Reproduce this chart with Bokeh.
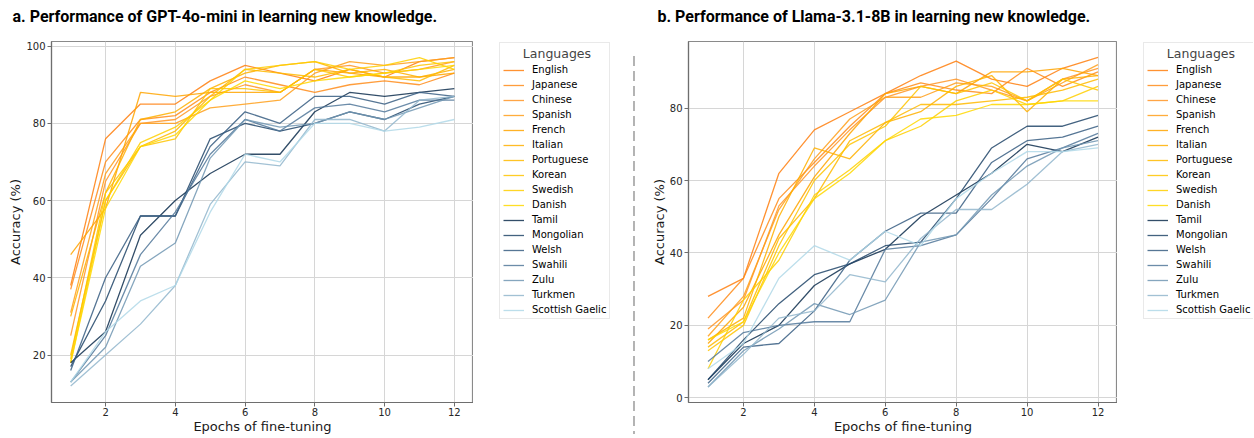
from bokeh.plotting import figure
from bokeh.models import Range1d, Legend, LegendItem, FixedTicker, Div, Title
from bokeh.layouts import row
from bokeh.embed import file_html
from bokeh.resources import INLINE

# ---------------- data ----------------
EPOCHS = [1, 2, 3, 4, 5, 6, 7, 8, 9, 10, 11, 12]
HIGH_LANGS = ["English", "Japanese", "Chinese", "Spanish", "French", "Italian",
              "Portuguese", "Korean", "Swedish", "Danish"]
LOW_LANGS = ["Tamil", "Mongolian", "Welsh", "Swahili", "Zulu", "Turkmen", "Scottish Gaelic"]
X_TICKS = [2, 4, 6, 8, 10, 12]
Y_TICKS_A = [20, 40, 60, 80, 100]
Y_TICKS_B = [0, 20, 40, 60, 80]

# a. GPT-4o-mini
GPT_ENGLISH = [38, 76, 85, 85, 91, 95, 93, 91, 94, 92, 96, 97]
GPT_JAPANESE = [37, 70, 81, 82, 88, 92, 90, 88, 90, 91, 90, 93]
GPT_CHINESE = [25, 65, 80, 81, 87, 90, 88, 94, 95, 93, 94, 96]
GPT_SPANISH = [31, 67, 80, 80, 84, 85, 86, 93, 96, 95, 96, 97]
GPT_FRENCH = [46, 58, 88, 87, 88, 88, 88, 94, 93, 92, 92, 93]
GPT_ITALIAN = [30, 62, 81, 83, 89, 93, 95, 96, 93, 94, 92, 94]
GPT_PORTUGUESE = [20, 60, 74, 78, 87, 94, 93, 92, 94, 92, 91, 95]
GPT_KOREAN = [19, 62, 74, 76, 89, 89, 88, 94, 92, 93, 95, 96]
GPT_SWEDISH = [18, 60, 75, 79, 86, 94, 95, 96, 94, 95, 97, 94]
GPT_DANISH = [18, 58, 74, 77, 86, 91, 89, 91, 92, 93, 94, 95]
GPT_TAMIL = [18, 26, 51, 60, 67, 72, 72, 83, 88, 87, 88, 89]
GPT_MONGOLIAN = [17, 34, 56, 56, 76, 80, 78, 80, 83, 81, 85, 87]
GPT_WELSH = [16, 40, 56, 56, 74, 83, 80, 87, 87, 85, 88, 87]
GPT_SWAHILI = [13, 25, 46, 57, 72, 81, 78, 84, 85, 83, 86, 86]
GPT_ZULU = [13, 22, 43, 49, 71, 81, 79, 80, 83, 81, 84, 87]
GPT_TURKMEN = [12, 20, 28, 38, 59, 70, 69, 81, 81, 78, 86, 87]
GPT_GAELIC = [13, 26, 34, 38, 57, 72, 70, 80, 80, 78, 79, 81]

# b. Llama-3.1-8B
LLAMA_ENGLISH = [28, 33, 62, 74, 79, 84, 89, 93, 88, 86, 91, 94]
LLAMA_JAPANESE = [22, 33, 55, 65, 75, 84, 87, 85, 84, 91, 86, 90]
LLAMA_CHINESE = [19, 27, 53, 64, 74, 83, 86, 88, 85, 82, 88, 91]
LLAMA_SPANISH = [17, 28, 52, 66, 77, 83, 83, 87, 86, 82, 87, 92]
LLAMA_FRENCH = [15, 25, 45, 61, 73, 84, 86, 84, 90, 90, 91, 89]
LLAMA_ITALIAN = [16, 22, 50, 69, 66, 76, 79, 86, 89, 79, 88, 89]
LLAMA_PORTUGUESE = [14, 21, 44, 55, 71, 76, 81, 81, 82, 83, 85, 88]
LLAMA_KOREAN = [13, 20, 42, 60, 70, 75, 86, 84, 87, 82, 88, 85]
LLAMA_SWEDISH = [8, 27, 38, 56, 63, 71, 75, 82, 85, 81, 82, 86]
LLAMA_DANISH = [16, 21, 40, 55, 62, 71, 77, 78, 81, 81, 82, 82]
LLAMA_TAMIL = [5, 15, 20, 31, 37, 41, 50, 56, 62, 70, 68, 72]
LLAMA_MONGOLIAN = [5, 16, 26, 34, 37, 42, 43, 55, 69, 75, 75, 78]
LLAMA_WELSH = [4, 14, 15, 24, 38, 46, 51, 51, 65, 71, 72, 75]
LLAMA_SWAHILI = [10, 18, 20, 21, 21, 41, 42, 45, 55, 66, 69, 73]
LLAMA_ZULU = [3, 13, 19, 26, 23, 27, 43, 45, 56, 64, 69, 71]
LLAMA_TURKMEN = [3, 12, 22, 24, 34, 32, 44, 52, 52, 59, 68, 70]
LLAMA_GAELIC = [8, 15, 33, 42, 38, 46, 42, 55, 62, 68, 68, 69]

GPT_SERIES = [GPT_ENGLISH, GPT_JAPANESE, GPT_CHINESE, GPT_SPANISH, GPT_FRENCH,
              GPT_ITALIAN, GPT_PORTUGUESE, GPT_KOREAN, GPT_SWEDISH, GPT_DANISH,
              GPT_TAMIL, GPT_MONGOLIAN, GPT_WELSH, GPT_SWAHILI, GPT_ZULU,
              GPT_TURKMEN, GPT_GAELIC]
LLAMA_SERIES = [LLAMA_ENGLISH, LLAMA_JAPANESE, LLAMA_CHINESE, LLAMA_SPANISH, LLAMA_FRENCH,
                LLAMA_ITALIAN, LLAMA_PORTUGUESE, LLAMA_KOREAN, LLAMA_SWEDISH, LLAMA_DANISH,
                LLAMA_TAMIL, LLAMA_MONGOLIAN, LLAMA_WELSH, LLAMA_SWAHILI, LLAMA_ZULU,
                LLAMA_TURKMEN, LLAMA_GAELIC]

# ---------------- styles ----------------
HIGH_COLORS = ["#ff7f0e", "#ff8c1a", "#ff9526", "#ff9f1a", "#ffa500",
               "#ffb000", "#ffba00", "#ffc400", "#ffcf00", "#ffd800"]
LOW_COLORS = ["#0f2f4f", "#22466a", "#385e82", "#52789a", "#7197b3", "#92b6cd", "#b0d8e8"]
COLORS = HIGH_COLORS + LOW_COLORS
LANGS = HIGH_LANGS + LOW_LANGS

FONT = "DejaVu Sans"
HEIGHT = 436
TOP = 41
BOTTOM = 33
FRAME_H = HEIGHT - TOP - BOTTOM
LEGEND_H = 274
NB = "\u00a0"


def make_panel(title, series, yr, yticks, left, frame_w, title_offset):
    p = figure(width=left + frame_w, height=HEIGHT,
               x_range=Range1d(0.45, 12.55), y_range=Range1d(*yr),
               output_backend="svg", toolbar_location=None,
               min_border_left=left, min_border_right=0,
               min_border_top=TOP, min_border_bottom=BOTTOM)
    p.title.text = title
    p.title.text_font = "Roboto"
    p.title.text_font_style = "bold"
    p.title.text_font_size = "16px"
    p.title.offset = title_offset
    p.title.standoff = 0
    p.title.text_color = "#000000"
    # invisible spacer between the frame and the title
    p.add_layout(Title(text=NB, text_font_size="2px", standoff=12), "above")

    p.xaxis.ticker = FixedTicker(ticks=X_TICKS)
    p.yaxis.ticker = FixedTicker(ticks=yticks)
    for ax in (p.xaxis[0], p.yaxis[0]):
        ax.major_label_text_font = FONT
        ax.major_label_text_font_size = "10px"
        ax.major_label_text_color = "#262626"
        ax.axis_label_text_font = FONT
        ax.axis_label_text_font_size = "13px"
        ax.axis_label_text_font_style = "normal"
        ax.axis_label_text_color = "#1a1a1a"
        ax.axis_line_color = "#6e6e6e"
        ax.axis_line_width = 1.2
        ax.major_tick_line_color = "#6e6e6e"
        ax.major_tick_out = 4
        ax.major_tick_in = 0
        ax.minor_tick_line_color = None
    p.xaxis.major_label_standoff = 1
    p.xaxis.axis_label_standoff = 0
    p.yaxis.major_label_standoff = 2
    p.yaxis.axis_label_standoff = 0
    p.xaxis.axis_label = "Epochs of fine-tuning"
    p.yaxis.axis_label = "Accuracy (%)"
    p.grid.grid_line_color = "#d6d6d6"
    p.grid.grid_line_width = 1
    p.outline_line_color = "#8a8a8a"
    p.outline_line_width = 1.2

    for ys, col in zip(series, COLORS):
        p.line(EPOCHS, ys, line_color=col, line_width=1.3, line_alpha=0.85)
    return p


def make_legend(series, width, gap):
    q = figure(width=width, height=HEIGHT, x_range=Range1d(0, width), y_range=Range1d(0, FRAME_H),
               x_axis_type=None, y_axis_type=None, output_backend="svg",
               toolbar_location=None, min_border_left=0, min_border_right=0,
               min_border_top=TOP, min_border_bottom=BOTTOM, outline_line_color=None)
    q.grid.visible = False
    q.extra_x_ranges = {"off": Range1d(1000, 1001)}
    items = []
    for lang, ys, col in zip(LANGS, series, COLORS):
        r = q.line(EPOCHS, ys, line_color=col, line_width=1.3, line_alpha=0.85, x_range_name="off")
        items.append(LegendItem(label=lang, renderers=[r]))
    leg = Legend(items=items, title=NB * 5 + "Languages",
                 location=(gap, FRAME_H - 5 - LEGEND_H))
    leg.margin = 0
    leg.padding = 3
    leg.spacing = 4
    leg.glyph_width = 21
    leg.glyph_height = 10
    leg.label_height = 10
    leg.label_standoff = 8
    leg.label_text_font = FONT
    leg.label_text_font_size = "10px"
    leg.label_text_color = "#000000"
    leg.title_text_font = FONT
    leg.title_text_font_size = "12.5px"
    leg.title_text_font_style = "normal"
    leg.title_standoff = 3
    leg.border_line_color = "#d4d4d4"
    leg.border_line_width = 1
    leg.background_fill_color = "#ffffff"
    q.add_layout(leg, "center")
    return q


pa = make_panel("a. Performance of GPT-4o-mini in learning new knowledge.", GPT_SERIES,
                (7.7, 101.2), Y_TICKS_A, left=51, frame_w=422, title_offset=-39)
la = make_legend(GPT_SERIES, width=149, gap=26)
pb = make_panel("b. Performance of Llama-3.1-8B in learning new knowledge.", LLAMA_SERIES,
                (-1.3, 98.4), Y_TICKS_B, left=42, frame_w=429, title_offset=-31)
lb = make_legend(LLAMA_SERIES, width=136, gap=26)

sep = Div(width=24, height=HEIGHT,
          text='<svg width="24" height="436" style="display:block">'
               '<line x1="12" y1="56" x2="12" y2="434" stroke="#8c8c8c" '
               'stroke-width="1.3" stroke-dasharray="10 5"/></svg>',
          styles={"margin": "0", "padding": "0"})

layout = row(pa, la, sep, pb, lb)
open("out.html", "w").write(file_html(layout, INLINE))
